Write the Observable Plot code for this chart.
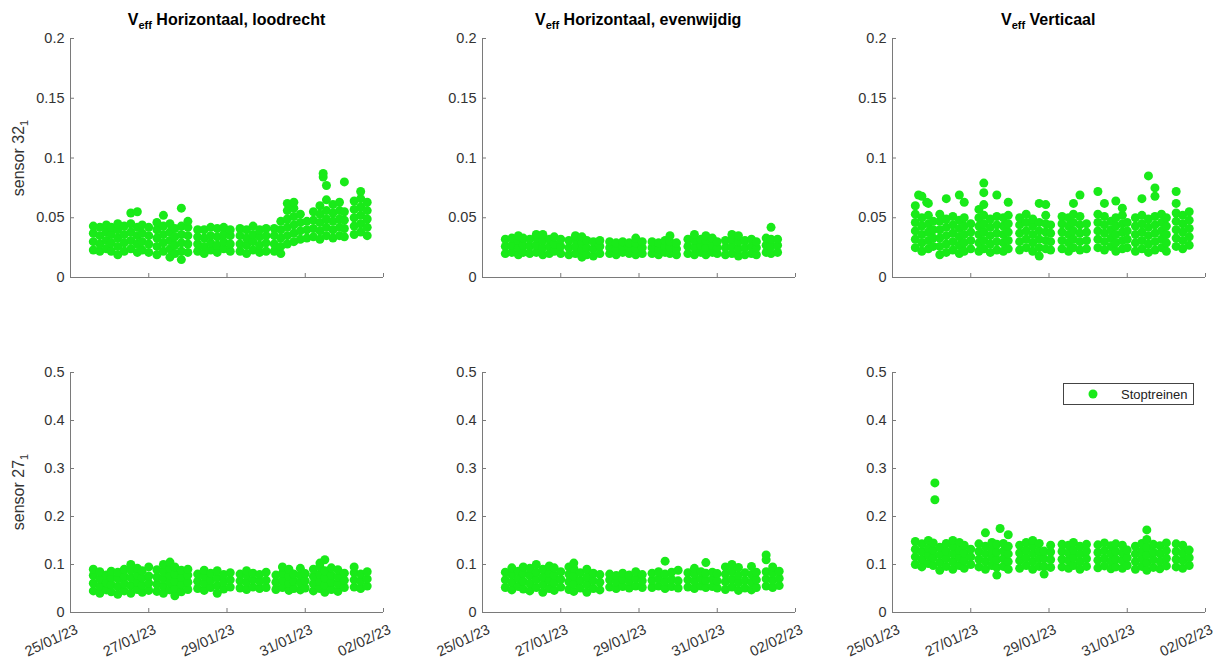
<!DOCTYPE html>
<html>
<head>
<meta charset="utf-8">
<script src="https://cdn.jsdelivr.net/npm/d3@7"></script>
<script src="https://cdn.jsdelivr.net/npm/@observablehq/plot@0.6"></script>
<style>
  html, body { margin: 0; padding: 0; background: #ffffff; }
  #chart { position: relative; width: 1215px; height: 658px; overflow: hidden; background: #ffffff;
           font-family: "Liberation Sans", Arial, Helvetica, sans-serif; }
  .panel { position: absolute; }
  .title { position: absolute; width: 320px; text-align: center; font-weight: bold; font-size: 16px;
           line-height: 20px; color: #000; white-space: nowrap; }
  .title sub { font-size: 11px; vertical-align: -4px; line-height: 0; }
  .ylab { position: absolute; font-size: 16px; color: #333; white-space: nowrap;
          transform: translate(-50%, -50%) rotate(-90deg); line-height: 18px; }
  .ylab sub { font-size: 11px; vertical-align: -4px; line-height: 0; }
  .legend { position: absolute; left: 1063px; top: 383px; width: 129px; height: 20px;
            border: 1px solid #444; background: #fff; font-size: 13px; color: #222; }
</style>
</head>
<body>
<div id="chart"></div>
<script>
// ---------- data (hours since 25/01/23 00:00, values in thousandths) ----------
const startDate = "2023-01-25";
const endDate = "2023-02-02";
const xTickDates = ["2023-01-25", "2023-01-27", "2023-01-29", "2023-01-31", "2023-02-02"];
const topYTicks = [0, 0.05, 0.1, 0.15, 0.2];
const bottomYTicks = [0, 0.1, 0.2, 0.3, 0.4, 0.5];
const titles = ["Horizontaal, loodrecht", "Horizontaal, evenwijdig", "Verticaal"];
const sensorTop = "32";
const sensorBottom = "27";
const seriesName = "Stoptreinen";

// each entry: [hour, value, value, ...]
const s32Loodrecht = [
  [14,23,30,37,43],[18,22,28,35,42],[22,24,31,38,44],[25,22,29,36,42],
  [29,19,26,33,40,45],[33,22,29,36,43],[37,24,31,38,45,54],[41,21,28,35,42,55],[44,23,30,37,44],[48,21,28,35,42],
  [53,19,26,33,40,46],[57,22,29,36,43,52],[61,17,24,31,38,45],[64,20,27,34,41],[68,15,22,29,36,43,58],[72,21,28,35,42,47],
  [78,22,28,34,40],[82,20,26,33,40],[86,23,29,35,42],[90,21,27,34,41],[94,24,30,36,42],[98,22,28,35,40],
  [104,22,28,35,41],[108,20,27,33,40],[112,23,30,36,43],[116,21,27,34,40],[120,22,29,35,41],
  [125,22,28,35,41],[129,20,26,33,40,47],[133,28,35,42,49,56,62],[137,30,37,44,51,58,63],[141,32,39,46,53],[145,33,40,47],
  [149,34,41,48,55],[153,32,39,46,53,60],[155,84,87],[157,35,42,49,56,65,77],[161,33,40,47,54,61],[165,35,42,49,56,63],[168,34,41,48,55,80],
  [174,36,43,50,57,64],[178,38,45,52,59,66,72],[182,35,42,49,56,63]
];
const s32Evenwijdig = [
  [14,20,26,32],[18,21,27,33],[22,19,25,31,35],[25,21,27,33],
  [29,20,26,32],[33,21,27,33,36],[37,19,25,31,36],[41,20,26,32],[44,22,28,34],[48,20,26,32],
  [53,19,25,31],[57,20,26,32,35],[61,17,23,29,34],[64,19,25,31],[68,18,24,30],[72,20,26,31],
  [78,20,25,30],[82,19,24,29],[86,21,26,30],[90,20,25,29],[94,19,24,29,33],[98,20,25,30],
  [104,20,25,30],[108,19,24,29],[112,21,26,31],[115,20,25,30,35],[119,19,24,29],
  [126,20,26,32],[130,19,25,31,36],[134,21,27,32],[137,19,25,31,35],[141,21,27,33],[144,20,25,30],
  [149,19,25,31],[153,20,26,32,36],[157,18,24,30,35],[161,19,25,31],[165,20,26,32],[168,19,25,30],
  [174,21,27,33],[177,20,26,32,42],[181,21,27,32]
];
const s32Verticaal = [
  [14,25,32,39,46,53,60],[16,69],[18,22,29,36,43,50,68],[21,63],[22,24,31,38,45,52,62],[25,26,33,40,47],
  [29,19,26,33,40,47,53],[33,21,28,35,42,49,66],[37,23,30,37,44,51],[41,20,27,34,41,48,69],[44,22,29,36,43,50,63],[48,24,31,38,45],
  [53,22,29,36,43,50,57],[56,24,31,38,45,52,61,71,79],[60,21,28,35,42,49],[64,23,30,37,44,51,69],[68,22,29,36,43,50],[71,24,31,38,45,52,63],
  [78,23,30,37,44,50],[82,25,32,39,46,53],[86,22,29,36,43,49],[90,18,25,32,39,46,62],[94,24,31,38,45,52,61],[97,23,30,37,44],
  [104,24,31,38,45,51],[108,22,29,36,43,50],[111,25,32,39,46,53,62],[115,23,30,37,44,51,69],[119,24,31,38,45],
  [126,25,32,39,46,53,72],[130,23,30,37,44,51,62],[134,26,33,40,47],[137,22,29,36,43,50,64],[141,24,31,38,45,52,58],[144,25,32,39,46],
  [149,22,29,36,43,50],[153,24,31,38,45,52,66],[157,21,28,35,42,49,85],[161,23,30,37,44,51,68,75],[165,25,32,39,46,53],[168,22,29,36,43,50],
  [174,26,33,40,47,54,62,72],[178,24,31,38,45,52],[182,27,34,41,48,55]
];
const s27Loodrecht = [
  [14,45,61,77,90],[18,40,55,70,85],[22,47,62,78],[25,43,58,73,86],
  [29,38,54,70,84],[33,45,60,75,90],[37,40,56,72,88,100],[41,48,63,78,92],[44,42,57,72,87],[48,46,61,76,95],
  [53,44,59,74,89],[57,40,55,70,85,100],[61,47,62,77,92,105],[64,35,50,65,80,95],[68,43,58,73,88],[72,48,63,78,90],
  [78,50,65,80],[82,46,61,76,88],[86,52,67,82],[90,40,56,72,87],[94,49,64,79],[98,53,68,83],
  [104,51,66,80],[108,48,63,78,87],[112,53,68,82],[116,50,65,79],[120,52,67,84],
  [126,48,63,78],[130,52,67,82,95],[134,46,61,76,90],[137,50,65,80],[141,47,62,77,92],[144,51,66,81],
  [149,45,60,75,90],[153,50,65,80,95,103],[156,42,57,72,87,110],[160,48,63,78,93],[164,44,59,74,89],[168,52,67,82],
  [174,53,68,83,95],[178,50,65,80],[182,55,70,85]
];
const s27Evenwijdig = [
  [14,52,68,84],[18,47,63,79,93],[22,54,70,86],[25,49,65,81,95],
  [29,45,61,77,92],[33,52,68,84,100],[37,42,58,74,90],[41,50,66,82,97],[44,46,62,78,93],[48,53,69,85],
  [53,48,64,80,95],[56,44,60,76,92,103],[60,51,67,83],[64,42,58,74,90],[68,50,66,82],[72,47,63,79],
  [78,53,68,80],[82,50,64,77],[86,54,69,82],[90,51,65,78],[94,55,70,85],[98,52,66,79],
  [104,52,67,82],[108,55,70,85],[112,50,65,80,107],[116,54,69,84],[120,51,66,88],
  [126,53,68,83],[130,50,65,80,92],[134,55,70,85],[137,52,67,82,104],[141,54,69,84],[144,51,66,81],
  [149,48,64,80,95],[153,53,69,85,100],[157,46,62,78,94],[161,51,67,83],[165,47,63,79,96],[168,52,68,84],
  [174,55,70,85,110,120],[178,52,67,82,95],[182,56,71,86]
];
const s27Verticaal = [
  [14,100,116,132,148],[18,95,111,127,143],[22,102,118,134,150],[25,98,114,130,145],[26,235,270],
  [29,88,104,120,136],[33,96,112,128,144],[37,90,106,122,138,150],[41,98,114,130,146],[44,92,108,124,140],[48,100,116,132],
  [53,95,111,127,143],[57,90,106,122,138,166],[61,98,114,130,146],[64,78,94,110,126,142],[66,175],[68,96,112,128,144],[71,90,106,122,138,162],
  [78,92,108,124,140],[82,98,114,130,146],[86,90,106,122,138,150],[90,96,112,128,144],[93,80,96,112,128],[97,94,110,126,140],
  [104,95,111,127,142],[108,92,108,124,140],[111,98,114,130,146],[115,90,106,122,138],[119,96,112,128,142],
  [126,93,109,125,141],[130,97,113,129,145],[134,91,107,123,139],[137,95,111,127,143],[141,92,108,124,140],[144,98,114,130],
  [149,90,106,122,138],[153,96,112,128,144],[156,88,104,120,136,152,172],[160,94,110,126,142],[164,91,107,123,139],[168,97,113,129,145],
  [174,95,111,127,143],[178,92,108,124,140],[182,98,114,130]
];

// ---------- layout ----------
const green = "#19ea19";
const axisColor = "#7a7a7a";
const textColor = "#333333";
const colAxisX = [70, 481.7, 891.7];
const plotW = 313;
const mL = 50, mR = 10;
const rows = [
  {top: 38, h: 239, mB: 10, ticks: topYTicks, sensor: sensorTop, series: [s32Loodrecht, s32Evenwijdig, s32Verticaal], labels: false},
  {top: 372, h: 240, mB: 52, ticks: bottomYTicks, sensor: sensorBottom, series: [s27Loodrecht, s27Evenwijdig, s27Verticaal], labels: true}
];

const t0 = new Date(startDate + "T00:00:00Z");
const t1 = new Date(endDate + "T00:00:00Z");
const xTicks = xTickDates.map(d => new Date(d + "T00:00:00Z"));
const fmt = d3.utcFormat("%d/%m/%y");
const toPoints = cols => cols.flatMap(([h, ...vs]) => vs.map(v => ({t: new Date(+t0 + h * 3600000), v: v / 1000})));

const chart = document.getElementById("chart");

rows.forEach((row, ri) => {
  row.series.forEach((cols, ci) => {
    const mT = 10;
    const height = mT + row.h + row.mB;
    const yMax = row.ticks[row.ticks.length - 1];
    const marks = [
      Plot.dot(toPoints(cols), {x: "t", y: "v", r: 4.5, fill: green, stroke: "none"}),
      Plot.ruleY([0], {stroke: axisColor, strokeWidth: 1}),
      Plot.ruleX([t0], {stroke: axisColor, strokeWidth: 1}),
      Plot.tickY(row.ticks, {y: d => d, insetRight: plotW - 4, stroke: axisColor}),
      Plot.tickX(xTicks, {x: d => d, insetTop: row.h - 4, stroke: axisColor}),
      Plot.axisY({ticks: row.ticks, tickSize: 0, tickPadding: 6, tickFormat: d => String(d), label: null,
                  fontSize: 14.5, fill: textColor})
    ];
    if (row.labels) {
      marks.push(Plot.text(xTicks, {x: d => d, frameAnchor: "bottom", text: d => fmt(d), rotate: -25,
        textAnchor: "end", lineAnchor: "top", dx: 4, dy: 11, fontSize: 14.5, fill: textColor}));
    }
    const p = Plot.plot({
      width: mL + plotW + mR, height,
      marginLeft: mL, marginRight: mR, marginTop: mT, marginBottom: row.mB,
      x: {type: "utc", domain: [t0, t1], axis: null},
      y: {domain: [0, yMax], axis: null},
      style: {background: "transparent", fontFamily: '"Liberation Sans", Arial, sans-serif', color: textColor, overflow: "visible"},
      marks
    });
    p.classList.add("panel");
    p.style.left = (colAxisX[ci] - mL) + "px";
    p.style.top = (row.top - mT) + "px";
    chart.appendChild(p);

    if (ri === 0) {
      const t = document.createElement("div");
      t.className = "title";
      t.style.left = (colAxisX[ci] + plotW / 2 - 160) + "px";
      t.style.top = "10px";
      t.innerHTML = "V<sub>eff</sub> " + titles[ci];
      chart.appendChild(t);
    }
  });
  const yl = document.createElement("div");
  yl.className = "ylab";
  yl.style.left = "19px";
  yl.style.top = (row.top + row.h / 2) + "px";
  yl.innerHTML = "sensor " + row.sensor + "<sub>1</sub>";
  chart.appendChild(yl);
});

// legend
const lg = document.createElement("div");
lg.className = "legend";
lg.innerHTML = `<svg width="129" height="20" style="position:absolute;left:0;top:0">
  <circle cx="29" cy="10" r="4.5" fill="${green}"></circle>
  <text x="57" y="14.5" font-size="13" fill="#222" font-family="Liberation Sans, Arial, sans-serif">${seriesName}</text></svg>`;
chart.appendChild(lg);
</script>
</body>
</html>
